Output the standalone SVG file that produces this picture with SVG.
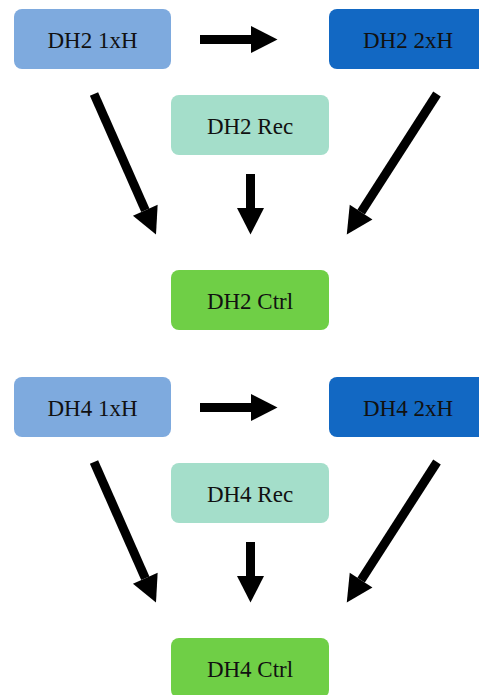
<svg xmlns="http://www.w3.org/2000/svg" width="479" height="695" viewBox="0 0 479 695">
<style>
.box{stroke:none}
.l1{fill:#7EAADE}
.l2{fill:#1268C3}
.rec{fill:#A4DECA}
.ctrl{fill:#6FCF46}
.t{font-family:"Liberation Serif","Times New Roman",serif;font-size:23px;fill:#111;text-anchor:middle}
.a{stroke:#000;stroke-width:9;fill:none;marker-end:url(#ah)}
</style>
<defs>
<marker id="ah" markerUnits="userSpaceOnUse" markerWidth="27" markerHeight="27" refX="0" refY="13.5" orient="auto" overflow="visible">
<path d="M0,0 L26.5,13.5 L0,27 Z" fill="#000"/>
</marker>
</defs>
<rect width="479" height="695" fill="#fff"/>
<g id="dh2-1xh"><rect class="box l1" x="14" y="9" width="157" height="60" rx="8"/><text class="t" x="92.5" y="47.5">DH2 1xH</text></g>
<g id="dh2-2xh"><rect class="box l2" x="329" y="9" width="158" height="60" rx="8"/><text class="t" x="408" y="47.5">DH2 2xH</text></g>
<g id="dh2-rec"><rect class="box rec" x="171" y="95" width="158" height="60" rx="8"/><text class="t" x="250" y="133.5">DH2 Rec</text></g>
<g id="dh2-ctrl"><rect class="box ctrl" x="171" y="270" width="158" height="60" rx="8"/><text class="t" x="250" y="308.5">DH2 Ctrl</text></g>
<g id="dh4-1xh"><rect class="box l1" x="14" y="377" width="157" height="60" rx="8"/><text class="t" x="92.5" y="415.5">DH4 1xH</text></g>
<g id="dh4-2xh"><rect class="box l2" x="329" y="377" width="158" height="60" rx="8"/><text class="t" x="408" y="415.5">DH4 2xH</text></g>
<g id="dh4-rec"><rect class="box rec" x="171" y="463" width="158" height="60" rx="8"/><text class="t" x="250" y="501.5">DH4 Rec</text></g>
<g id="dh4-ctrl"><rect class="box ctrl" x="171" y="638" width="158" height="60" rx="8"/><text class="t" x="250" y="676.5">DH4 Ctrl</text></g>
<g id="connectors">
<line class="a" x1="200" y1="39.5" x2="251" y2="39.5"/>
<line class="a" x1="94" y1="94" x2="145.3" y2="210.3"/>
<line class="a" x1="437" y1="94" x2="361.1" y2="212.1"/>
<line class="a" x1="250.5" y1="174" x2="250.5" y2="208"/>
<line class="a" x1="200" y1="407.5" x2="251" y2="407.5"/>
<line class="a" x1="94" y1="462" x2="145.3" y2="578.3"/>
<line class="a" x1="437" y1="462" x2="361.1" y2="580.1"/>
<line class="a" x1="250.5" y1="542" x2="250.5" y2="576"/>
</g>
</svg>
